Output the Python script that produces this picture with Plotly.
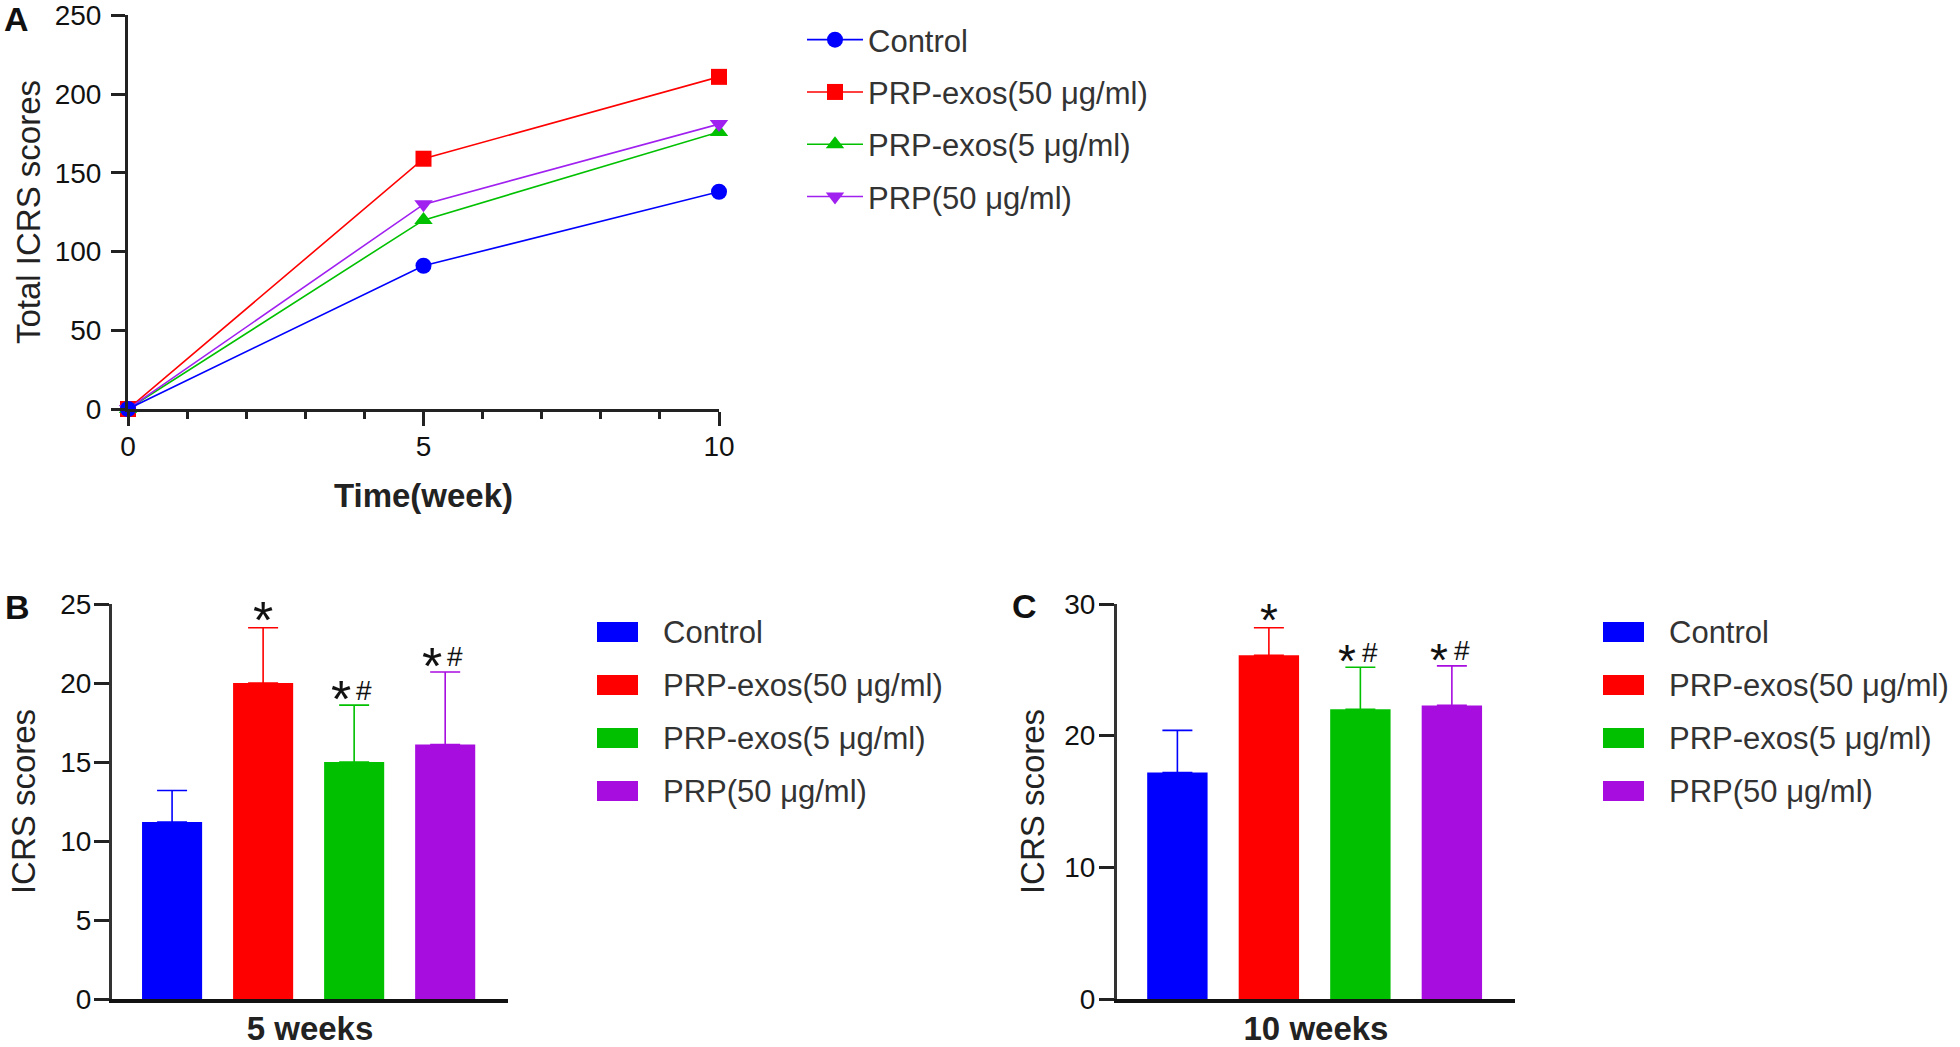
import plotly.graph_objects as go

W, H = 1960, 1047

groups = ["Control", "PRP-exos(50 μg/ml)", "PRP-exos(5 μg/ml)", "PRP(50 μg/ml)"]
bar_colors = ["#0000FF", "#FF0000", "#00C000", "#A80DDF"]
line_colors = ["#0000FF", "#FF0000", "#00C000", "#A020F0"]
symbols = ["circle", "square", "triangle-up", "triangle-down"]

# panel A: total ICRS scores over time
weeks = [0, 5, 10]
total_control = [0, 91, 138]
total_exos50 = [0, 159, 211]
total_exos5 = [0, 120, 176]
total_prp50 = [0, 130, 181]

# panel B / C: ICRS scores (mean, upper SD) and significance marks
icrs_5w = [11.2, 20.0, 15.0, 16.1]
icrs_5w_err = [2.0, 3.5, 3.6, 4.6]
icrs_10w = [17.2, 26.1, 22.0, 22.3]
icrs_10w_err = [3.2, 2.1, 3.2, 3.0]
sig_5w = ["", "*", "*#", "*#"]
sig_10w = ["", "*", "*#", "*#"]

FONT = "Liberation Sans, Arial, sans-serif"
AXC = "#222222"
pltly_cfg = {"displayModeBar": False, "showTips": False}


def px_x(p):
    return p / W


def px_y(p):
    return 1 - p / H


fig = go.Figure()

# ---- panel A ----
totals = [total_control, total_exos50, total_exos5, total_prp50]
for i in [1, 2, 3, 0]:
    fig.add_trace(go.Scatter(
        x=weeks, y=totals[i], name=groups[i], mode="lines+markers",
        line=dict(color=line_colors[i], width=1.6),
        marker=dict(symbol=symbols[i], size=16, color=line_colors[i]),
        cliponaxis=False, legendrank=i + 1, legendgroup=str(i),
        xaxis="x", yaxis="y", legend="legend"))

# ---- panels B and C ----
for k, (vals, errs, sig, ax) in enumerate([(icrs_5w, icrs_5w_err, sig_5w, "2"),
                                           (icrs_10w, icrs_10w_err, sig_10w, "3")]):
    star_size = 52 if k == 0 else 46
    hash_size = 28
    for i in range(4):
        fig.add_trace(go.Bar(
            x=[groups[i]], y=[vals[i]], width=0.66, showlegend=False,
            marker=dict(color=bar_colors[i], line=dict(width=0)),
            error_y=dict(type="data", symmetric=False, array=[errs[i]], arrayminus=[0],
                         color=bar_colors[i], thickness=1.6, width=15),
            xaxis="x" + ax, yaxis="y" + ax))
        top = vals[i] + errs[i]
        paired = "#" in sig[i]
        if "*" in sig[i]:
            fig.add_annotation(x=groups[i], y=top, xref="x" + ax, yref="y" + ax,
                               text="*", showarrow=False, yanchor="middle",
                               xshift=-13 if paired else 0, yshift=6 if paired else 8,
                               font=dict(family=FONT, size=star_size, color="#111"))
        if paired:
            fig.add_annotation(x=groups[i], y=top, xref="x" + ax, yref="y" + ax,
                               text="#", showarrow=False, yanchor="middle",
                               xshift=10, yshift=15,
                               font=dict(family=FONT, size=hash_size, color="#111"))

    # legend drawn as swatches beside each bar panel
    sw_x = 597 if k == 0 else 1603
    for i in range(4):
        yc = 632 + i * 53
        fig.add_shape(type="rect", xref="paper", yref="paper",
                      x0=px_x(sw_x), x1=px_x(sw_x + 41), y0=px_y(yc - 10), y1=px_y(yc + 10),
                      fillcolor=bar_colors[i], line=dict(width=0))
        fig.add_annotation(x=px_x(sw_x + 64), y=px_y(yc), xref="paper", yref="paper",
                           text=groups[i], showarrow=False, xanchor="left", yanchor="middle",
                           font=dict(family=FONT, size=31, color="#333"))

tick_font = dict(family=FONT, size=28, color="#111")
ytitle_font = dict(family=FONT, size=33, color="#222")
xtitle_font = dict(family=FONT, size=33, color="#222", weight="bold")

fig.update_layout(
    width=W, height=H, margin=dict(l=0, r=0, t=0, b=0, autoexpand=False),
    paper_bgcolor="white", plot_bgcolor="white", barmode="overlay",
    font=dict(family=FONT),
    xaxis=dict(domain=[px_x(128), px_x(719)], range=[0, 10], tickvals=[0, 5, 10],
               ticks="outside", ticklen=14, tickwidth=2.5, tickcolor=AXC,
               minor=dict(dtick=1, ticks="outside", ticklen=7, tickwidth=2.5, tickcolor=AXC),
               showline=True, linewidth=3, linecolor=AXC, showgrid=False, zeroline=False,
               tickfont=tick_font, ticklabelstandoff=-4, automargin=False,
               title=dict(text="Time(week)", font=xtitle_font, standoff=24),
               anchor="y"),
    yaxis=dict(domain=[px_y(409), px_y(15)], range=[0, 250.3],
               tickvals=[0, 50, 100, 150, 200, 250],
               ticks="outside", ticklen=14, tickwidth=2.5, tickcolor=AXC,
               showline=True, linewidth=3, linecolor=AXC, showgrid=False, zeroline=False,
               tickfont=tick_font, ticklabelstandoff=4, automargin=False,
               title=dict(text="Total ICRS scores", font=ytitle_font, standoff=5),
               anchor="x"),
    xaxis2=dict(domain=[px_x(112), px_x(508)], range=[-0.66, 3.69], type="category",
                categoryorder="array", categoryarray=groups, showticklabels=False, ticks="",
                showline=True, linewidth=3.5, linecolor="#111", showgrid=False, zeroline=False,
                automargin=False,
                title=dict(text="5 weeks", font=xtitle_font, standoff=24), anchor="y2"),
    yaxis2=dict(domain=[px_y(999), px_y(604)], range=[0, 25], dtick=5,
                ticks="outside", ticklen=15, tickwidth=2.5, tickcolor=AXC,
                showline=True, linewidth=3, linecolor="#333", showgrid=False, zeroline=False,
                tickfont=tick_font, ticklabelstandoff=-3, automargin=False,
                title=dict(text="ICRS scores", font=ytitle_font, standoff=15), anchor="x2"),
    xaxis3=dict(domain=[px_x(1117), px_x(1515)], range=[-0.66, 3.69], type="category",
                categoryorder="array", categoryarray=groups, showticklabels=False, ticks="",
                showline=True, linewidth=3.5, linecolor="#111", showgrid=False, zeroline=False,
                automargin=False,
                title=dict(text="10 weeks", font=xtitle_font, standoff=24), anchor="y3"),
    yaxis3=dict(domain=[px_y(999), px_y(604)], range=[0, 30], dtick=10,
                ticks="outside", ticklen=15, tickwidth=2.5, tickcolor=AXC,
                showline=True, linewidth=3, linecolor="#333", showgrid=False, zeroline=False,
                tickfont=tick_font, ticklabelstandoff=-2, automargin=False,
                title=dict(text="ICRS scores", font=ytitle_font, standoff=10), anchor="x3"),
    legend=dict(x=px_x(802), y=px_y(13), xanchor="left", yanchor="top",
                font=dict(family=FONT, size=31, color="#333"), itemwidth=56,
                tracegroupgap=9, bgcolor="rgba(0,0,0,0)"),
)

# panel letters
for letter, lx, ly in [("A", 16, 19), ("B", 17, 607), ("C", 1024, 606)]:
    fig.add_annotation(x=px_x(lx), y=px_y(ly), xref="paper", yref="paper", text=letter,
                       showarrow=False, xanchor="center", yanchor="middle",
                       font=dict(family=FONT, size=34, color="#111", weight="bold"))

# the page body keeps its default 8px margin otherwise, pushing the figure off-window
fig.write_html("out.html", config=pltly_cfg, post_script="document.body.style.margin='0';")
